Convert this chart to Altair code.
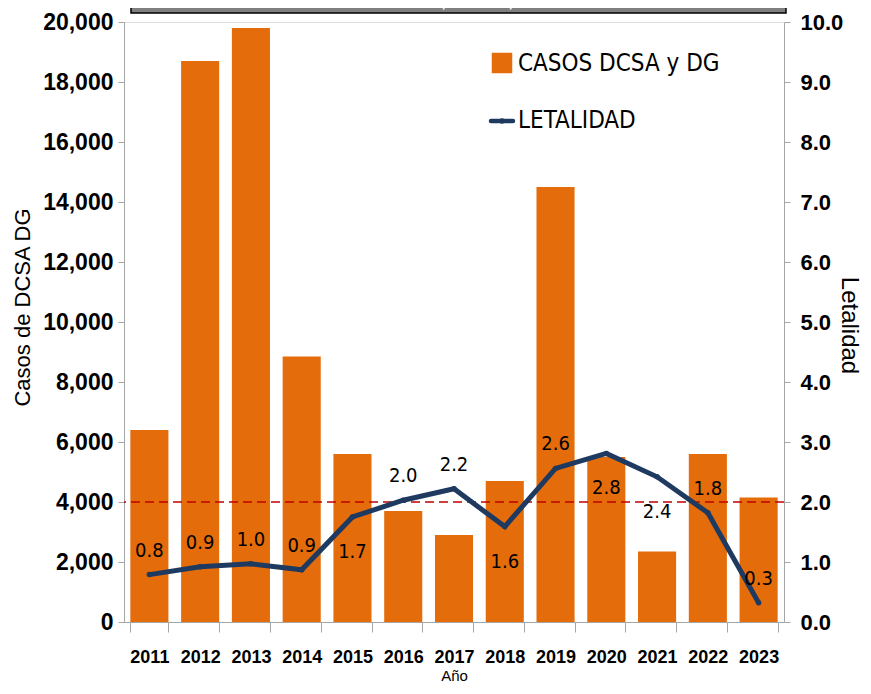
import altair as alt
import pandas as pd

# ---- data ----
years = [str(y) for y in range(2011, 2024)]
casos = [6400, 18700, 19800, 8850, 5600, 3700, 2900, 4700, 14500, 5500, 2350, 5600, 4150]
letalidad = [0.79, 0.92, 0.97, 0.87, 1.75, 2.03, 2.22, 1.59, 2.56, 2.81, 2.42, 1.82, 0.32]
etiquetas = ["0.8", "0.9", "1.0", "0.9", "1.7", "2.0", "2.2", "1.6", "2.6", "2.8", "2.4", "1.8", "0.3"]
posicion = ["arriba", "arriba", "arriba", "arriba", "abajo", "arriba", "arriba",
            "abajo", "arriba", "abajo", "abajo", "arriba", "arriba"]
umbral = [4000]
titulo = "Letalidad Anual, México, 2022–2023"
leyenda = ["CASOS DCSA y DG", "LETALIDAD"]

ORANGE = "#E46C0A"
NAVY = "#1F3A60"
RED = "#C00000"
AXIS_GREY = "#A6A6A6"
FONT = "Liberation Sans"
NARROW = "DejaVu Sans Condensed, Liberation Sans, sans-serif"

df = pd.DataFrame({"anio": years, "casos": casos, "letalidad": letalidad,
                   "etiqueta": etiquetas, "pos": posicion})
df_umbral = pd.DataFrame({"casos": umbral})
one = pd.DataFrame({"k": [0]})

x_enc = alt.X(
    "anio:N", sort=years,
    scale=alt.Scale(paddingInner=0.25, paddingOuter=0.125),
    axis=alt.Axis(title="Año", labelAngle=0, tickBand="extent", labelFont=FONT,
                  labelFontSize=18, labelFontWeight="bold", labelColor="black",
                  labelPadding=16, tickSize=10, domainColor=AXIS_GREY, tickColor=AXIS_GREY,
                  titleFont=FONT, titleFontSize=15, titleFontWeight="normal",
                  titleColor="black", titleBaseline="alphabetic", titleY=58),
)

left_scale = alt.Scale(domain=[0, 20000], nice=False)
right_scale = alt.Scale(domain=[0, 10], nice=False)

left_axis = alt.Axis(title="Casos de DCSA  DG", values=list(range(0, 20001, 2000)),
                     format=",.0f", grid=False, tickSize=6, labelPadding=5,
                     labelFont=FONT, labelFontSize=23, labelFontWeight="bold",
                     labelColor="black", domainColor=AXIS_GREY, tickColor=AXIS_GREY,
                     titleFont=FONT, titleFontSize=22, titleFontWeight="normal",
                     titleColor="black", titleX=-90, titleY=285)
right_axis = alt.Axis(orient="right", title="Letalidad", values=list(range(0, 11)),
                      format=".1f", grid=False, tickSize=6, labelPadding=10,
                      labelFont=FONT, labelFontSize=22, labelFontWeight="bold",
                      labelColor="black", domainColor=AXIS_GREY, tickColor=AXIS_GREY,
                      titleFont=FONT, titleFontSize=24, titleFontWeight="normal",
                      titleColor="black", titleX=52, titleY=303)

bars = alt.Chart(df).mark_bar(color=ORANGE).encode(
    x=x_enc,
    y=alt.Y("casos:Q", scale=left_scale, axis=left_axis),
)

rule = alt.Chart(df_umbral).mark_rule(color=RED, strokeDash=[9, 5], strokeWidth=1.5).encode(
    y=alt.Y("casos:Q", scale=left_scale, axis=left_axis)
)

left_layer = alt.layer(bars, rule)

y_right = alt.Y("letalidad:Q", scale=right_scale, axis=right_axis)

line = alt.Chart(df).mark_line(
    color=NAVY, strokeWidth=5,
    point=alt.OverlayMarkDef(color=NAVY, filled=True, size=30),
).encode(x=alt.X("anio:N", sort=years), y=y_right)

lab_up = alt.Chart(df).transform_filter(alt.datum.pos == "arriba").mark_text(
    font=NARROW, fontSize=20, color="black", dy=-24
).encode(x=alt.X("anio:N", sort=years), y=y_right, text="etiqueta:N")

lab_down = alt.Chart(df).transform_filter(alt.datum.pos == "abajo").mark_text(
    font=NARROW, fontSize=20, color="black", dy=35
).encode(x=alt.X("anio:N", sort=years), y=y_right, text="etiqueta:N")

# legend drawn by hand
leg_sq = alt.Chart(one).mark_square(color=ORANGE, size=420, opacity=1).encode(
    x=alt.value(378), y=alt.value(41))
leg_t1 = alt.Chart(one).mark_text(font=NARROW, fontSize=24, align="left", baseline="middle",
                                  color="black").encode(
    x=alt.value(394), y=alt.value(42), text=alt.value(leyenda[0]))
leg_line = alt.Chart(one).mark_rule(color=NAVY, strokeWidth=4.5, strokeCap="round").encode(
    x=alt.value(367), x2=alt.value(389), y=alt.value(99))
leg_dot = alt.Chart(one).mark_circle(color=NAVY, size=30, opacity=1).encode(
    x=alt.value(378), y=alt.value(99))
leg_t2 = alt.Chart(one).mark_text(font=NARROW, fontSize=24, align="left", baseline="middle",
                                  color="black").encode(
    x=alt.value(394), y=alt.value(99), text=alt.value(leyenda[1]))

# cropped title banner at the very top
banner = alt.Chart(one).mark_rect(color="#7F7F7F", stroke="black", strokeWidth=1.5).encode(
    x=alt.value(7), x2=alt.value(662), y=alt.value(-20), y2=alt.value(-9))
banner_t = alt.Chart(one).mark_text(font=FONT, fontSize=17, fontWeight="bold", color="white",
                                    baseline="bottom").encode(
    x=alt.value(335), y=alt.value(-11), text=alt.value(titulo))

right_layer = alt.layer(line, lab_up, lab_down, leg_sq, leg_t1, leg_line, leg_dot, leg_t2,
                        banner, banner_t)

chart = alt.layer(left_layer, right_layer).resolve_scale(y="independent").properties(
    width=660, height=600,
    padding={"left": 116, "top": 14, "right": 79, "bottom": 60},
    autosize=alt.AutoSizeParams(type="none"),
).configure_view(strokeWidth=0).configure(background="white")

chart.save("out.html", embed_options={"renderer": "svg", "actions": False})
